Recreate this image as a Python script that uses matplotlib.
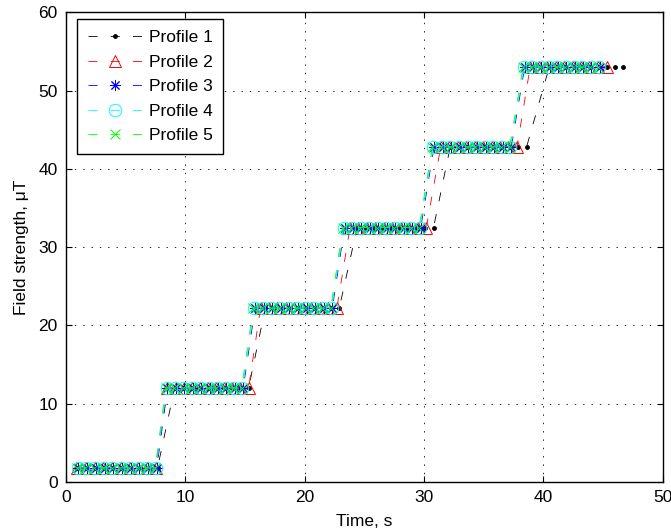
import numpy as np
import matplotlib
matplotlib.use("Agg")
import matplotlib.pyplot as plt

plt.rcParams['font.family'] = ['Liberation Sans', 'DejaVu Sans']
plt.rcParams['lines.scale_dashes'] = False

# ---- data ----
levels = [1.8, 12.0, 22.2, 32.5, 42.8, 53.0]

t_profile1 = [
    [0.90, 1.65, 2.40, 3.16, 3.91, 4.66, 5.41, 6.16, 6.92, 7.67],
    [9.10, 9.79, 10.48, 11.17, 11.86, 12.54, 13.23, 13.92, 14.61, 15.30],
    [16.70, 17.39, 18.08, 18.77, 19.46, 20.14, 20.83, 21.52, 22.21, 22.90],
    [24.40, 25.11, 25.82, 26.53, 27.24, 27.96, 28.67, 29.38, 30.09, 30.80],
    [32.20, 32.91, 33.62, 34.33, 35.04, 35.76, 36.47, 37.18, 37.89, 38.60],
    [40.50, 41.19, 41.88, 42.57, 43.26, 43.94, 44.63, 45.32, 46.01, 46.70],
]
t_profile2 = [
    [0.95, 1.68, 2.41, 3.14, 3.87, 4.60, 5.33, 6.06, 6.79, 7.52],
    [8.50, 9.18, 9.86, 10.54, 11.22, 11.90, 12.58, 13.26, 13.94, 14.62, 15.30],
    [16.30, 17.01, 17.72, 18.43, 19.14, 19.85, 20.56, 21.27, 21.98, 22.70],
    [23.80, 24.51, 25.22, 25.93, 26.64, 27.35, 28.06, 28.77, 29.48, 30.20],
    [31.40, 32.11, 32.82, 33.53, 34.24, 34.95, 35.66, 36.37, 37.08, 37.80],
    [38.90, 39.61, 40.32, 41.03, 41.74, 42.45, 43.16, 43.87, 44.58, 45.30],
]
t_profile3 = [
    [1.04, 1.77, 2.50, 3.23, 3.96, 4.69, 5.42, 6.15, 6.88, 7.61],
    [8.50, 9.21, 9.91, 10.62, 11.32, 12.03, 12.73, 13.44, 14.14, 14.85],
    [15.84, 16.56, 17.28, 18.00, 18.72, 19.44, 20.16, 20.88, 21.60, 22.32],
    [23.34, 24.05, 24.76, 25.47, 26.18, 26.89, 27.60, 28.31, 29.02, 29.73],
    [30.84, 31.56, 32.28, 33.00, 33.72, 34.44, 35.16, 35.88, 36.60, 37.32],
    [38.44, 39.14, 39.84, 40.54, 41.24, 41.94, 42.64, 43.34, 44.04, 44.74],
]
t_profile4 = [
    [0.97, 1.70, 2.43, 3.16, 3.89, 4.62, 5.35, 6.08, 6.81, 7.54],
    [8.43, 9.14, 9.84, 10.55, 11.25, 11.96, 12.66, 13.37, 14.07, 14.78],
    [15.77, 16.49, 17.21, 17.93, 18.65, 19.37, 20.09, 20.81, 21.53, 22.25],
    [23.27, 23.98, 24.69, 25.40, 26.11, 26.82, 27.53, 28.24, 28.95, 29.66],
    [30.77, 31.49, 32.21, 32.93, 33.65, 34.37, 35.09, 35.81, 36.53, 37.25],
    [38.37, 39.07, 39.77, 40.47, 41.17, 41.87, 42.57, 43.27, 43.97, 44.67],
]
t_profile5 = [
    [0.90, 1.63, 2.36, 3.09, 3.82, 4.55, 5.28, 6.01, 6.74, 7.47],
    [8.36, 9.07, 9.77, 10.48, 11.18, 11.89, 12.59, 13.30, 14.00, 14.71],
    [15.70, 16.42, 17.14, 17.86, 18.58, 19.30, 20.02, 20.74, 21.46, 22.18],
    [23.20, 23.91, 24.62, 25.33, 26.04, 26.75, 27.46, 28.17, 28.88, 29.59],
    [30.70, 31.42, 32.14, 32.86, 33.58, 34.30, 35.02, 35.74, 36.46, 37.18],
    [38.30, 39.00, 39.70, 40.40, 41.10, 41.80, 42.50, 43.20, 43.90, 44.60],
]
labels = ['Profile 1', 'Profile 2', 'Profile 3', 'Profile 4', 'Profile 5']
xticks = [0, 10, 20, 30, 40, 50]
yticks = [0, 10, 20, 30, 40, 50, 60]

profiles = [t_profile1, t_profile2, t_profile3, t_profile4, t_profile5]
styles = [
    dict(color=(0, 0, 0), marker='.', markersize=5.5, mfc=(0, 0, 0)),
    dict(color=(1, 0, 0), marker='^', markersize=8.5, mfc='none'),
    dict(color=(0, 0, 1), marker=(8, 2, 0), markersize=8),
    dict(color=(0, 1, 1), marker='o', markersize=9, mfc='none'),
    dict(color=(0, 1, 0), marker='x', markersize=6.5),
]

fig = plt.figure(figsize=(6.71, 5.31), dpi=100)
ax = fig.add_axes([0.0984, 0.0923, 0.8891, 0.8847])

dash = (0, (6.5, 9.5))
for tp, st, lab in zip(profiles, styles, labels):
    t = np.concatenate([np.asarray(s, float) for s in tp])
    y = np.repeat(levels, [len(s) for s in tp])
    ax.plot(t, y, linestyle=dash, linewidth=0.6, mew=0.7, label=lab, **st)

ax.set_xlim(0, 50)
ax.set_ylim(0, 60)
ax.set_xticks(xticks)
ax.set_yticks(yticks)
ax.grid(True, color='black', linestyle=(0, (1, 5)), linewidth=0.6)
ax.set_axisbelow(True)
ax.tick_params(direction='in', length=4, width=0.8, top=True, right=True,
               labelsize=12.5, pad=6)
for sp in ax.spines.values():
    sp.set_linewidth(1.0)

ax.set_xlabel('Time, s', fontsize=12.5, labelpad=6)
ax.set_ylabel('Field strength, μT', fontsize=12.5, labelpad=7)

leg = ax.legend(loc='upper left', bbox_to_anchor=(0.0184, 0.985),
                borderaxespad=0, fontsize=12.5, numpoints=1, handlelength=3.1,
                handletextpad=0.4, labelspacing=0.54, borderpad=0.62,
                fancybox=False, framealpha=1, edgecolor='black')
leg.get_frame().set_linewidth(1.0)

fig.savefig('out.png', dpi=100)
